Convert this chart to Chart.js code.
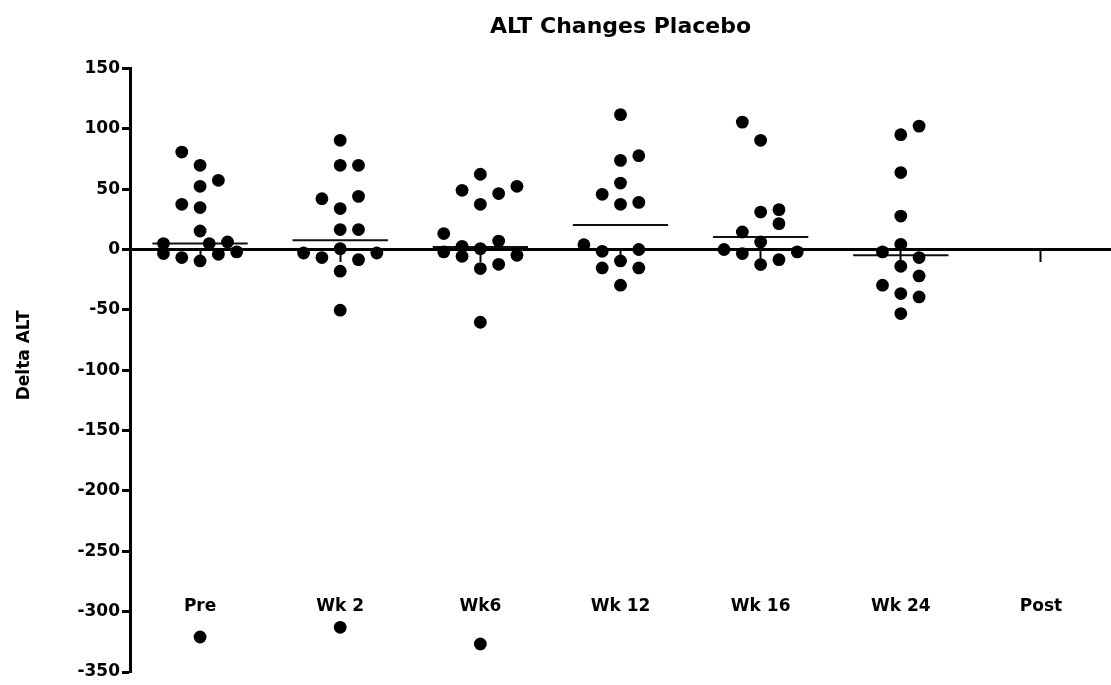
<!DOCTYPE html>
<html>
<head>
<meta charset="utf-8">
<script src="https://cdn.jsdelivr.net/npm/chart.js@4.4.1/dist/chart.umd.min.js"></script>
<style>
    html, body { margin: 0; padding: 0; background: #fff; }
    #wrap { width: 1111px; height: 685px; }
</style>
</head>
<body>
<div id="wrap"><canvas id="alt-chart"></canvas></div>
<script>
var categories = ['Pre', 'Wk 2', 'Wk6', 'Wk 12', 'Wk 16', 'Wk 24', 'Post'];

// delta ALT of each subject
var preValues  = [80.7, 69.7, 52.3, 57.3, 37.4, 34.7, 15.3, 4.9, -3.4, -6.7, -9.5, 4.9, -4, 6.2, -2, -321];
var wk2Values  = [90.4, 69.7, 69.7, 42.1, 44, 33.9, 16.5, 16.5, -2.9, -6.7, 0.7, -8.4, -2.9, -18, -50.3, -313];
var wk6Values  = [62.3, 49, 46.3, 52.3, 37.4, 13.2, -2, 2.6, -5.6, 0.7, 7, -12.3, -15.8, -4.8, -60.3, -326.8];
var wk12Values = [111.7, 73.8, 77.7, 55, 45.7, 37.4, 39, 4, -1.5, 0, -15.3, -9.5, -15.3, -29.6];
var wk16Values = [105.5, 90.4, 31, 33, 21.4, 14.5, 6.2, 0, -3.4, -12.5, -8.4, -2];
var wk24Values = [102.2, 95.1, 63.7, 27.7, 4.3, -2, -13.9, -6.7, -21.9, -29.6, -36.5, -39.3, -53.1];
var postValues = [];

// column slot of each dot (in dot widths from the column centre)
var preSlots  = [-1, 0, 0, 1, -1, 0, 0, -2, -2, -1, 0, 0.5, 1, 1.5, 2, 0];
var wk2Slots  = [0, 0, 1, -1, 1, 0, 0, 1, -2, -1, 0, 1, 2, 0, 0, 0];
var wk6Slots  = [0, -1, 1, 2, 0, -2, -2, -1, -1, 0, 1, 1, 0, 2, 0, 0];
var wk12Slots = [0, 0, 1, 0, -1, 0, 1, -2, -1, 1, -1, 0, 1, 0];
var wk16Slots = [-1, 0, 0, 1, 1, -1, 0, -2, -1, 0, 1, 2];
var wk24Slots = [1, 0, 0, 0, 0, -1, 0, 1, 1, -1, 0, 1, 0];
var postSlots = [];

// group mean lines as drawn
var groupMeans = [5, 7.6, 2, 20.3, 10.4, -4.8, null];

var yMin = -350;
var yMax = 150;
var yStep = 50;

var SLOT = 0.1306;
var MEAN_HALF = 0.34;
var FONT = "'DejaVu Sans', 'Liberation Sans', Arial, sans-serif";

var groups = [
    [preValues, preSlots],
    [wk2Values, wk2Slots],
    [wk6Values, wk6Slots],
    [wk12Values, wk12Slots],
    [wk16Values, wk16Slots],
    [wk24Values, wk24Slots],
    [postValues, postSlots]
];

var datasets = [];

groups.forEach(function (g, i) {
    datasets.push({
        type: 'scatter',
        data: g[0].map(function (v, k) {
            return { x: i + g[1][k] * SLOT, y: v };
        }),
        backgroundColor: '#000',
        borderColor: '#000',
        borderWidth: 0,
        pointRadius: 6.4,
        pointHoverRadius: 6.4
    });
});

groupMeans.forEach(function (m, i) {
    if (m === null) {
        return;
    }
    datasets.push({
        type: 'line',
        data: [{ x: i - MEAN_HALF, y: m }, { x: i + MEAN_HALF, y: m }],
        borderColor: '#111',
        borderWidth: 2,
        pointRadius: 0,
        fill: false
    });
});

function categoryTicks(axis) {
    axis.ticks = categories.map(function (c, i) {
        return { value: i };
    });
}

new Chart(document.getElementById('alt-chart'), {
    type: 'scatter',
    data: { datasets: datasets },
    options: {
        responsive: true,
        maintainAspectRatio: false,
        animation: false,
        events: [],
        layout: {
            autoPadding: false,
            padding: { left: 0, right: 0, top: 0, bottom: 13 }
        },
        scales: {
            x: {
                type: 'linear',
                min: -0.5,
                max: 6.5,
                position: { y: 0 },
                afterBuildTicks: categoryTicks,
                grid: {
                    display: true,
                    drawOnChartArea: false,
                    drawTicks: true,
                    tickLength: 11,
                    tickWidth: 2,
                    tickColor: '#000'
                },
                border: { display: true, color: '#000', width: 3 },
                ticks: { display: false }
            },
            xl: {
                type: 'linear',
                axis: 'x',
                min: -0.5,
                max: 6.5,
                position: { y: -287 },
                afterBuildTicks: categoryTicks,
                grid: { display: false, drawTicks: false },
                border: { display: false },
                ticks: {
                    padding: 0,
                    autoSkip: false,
                    maxRotation: 0,
                    color: '#000',
                    font: { family: FONT, size: 17, weight: 'bold' },
                    callback: function (value) {
                        return categories[value];
                    }
                }
            },
            y: {
                min: yMin,
                max: yMax,
                position: 'left',
                afterFit: function (scale) {
                    scale.width = 130;
                },
                grid: {
                    display: true,
                    drawOnChartArea: false,
                    drawTicks: true,
                    tickLength: 8,
                    tickWidth: 3,
                    tickColor: '#000'
                },
                border: { display: true, color: '#000', width: 3 },
                ticks: {
                    stepSize: yStep,
                    padding: 2,
                    color: '#000',
                    font: { family: FONT, size: 17, weight: 'bold' }
                },
                title: {
                    display: true,
                    text: '     Delta ALT',
                    color: '#000',
                    padding: { top: 14, bottom: 0 },
                    font: { family: FONT, size: 17, weight: 'bold' }
                }
            }
        },
        plugins: {
            legend: { display: false },
            tooltip: { enabled: false },
            title: {
                display: true,
                text: 'ALT Changes Placebo',
                fullSize: false,
                color: '#000',
                padding: { top: 14, bottom: 28 },
                font: { family: FONT, size: 22, weight: 'bold' }
            }
        }
    }
});
</script>
</body>
</html>
